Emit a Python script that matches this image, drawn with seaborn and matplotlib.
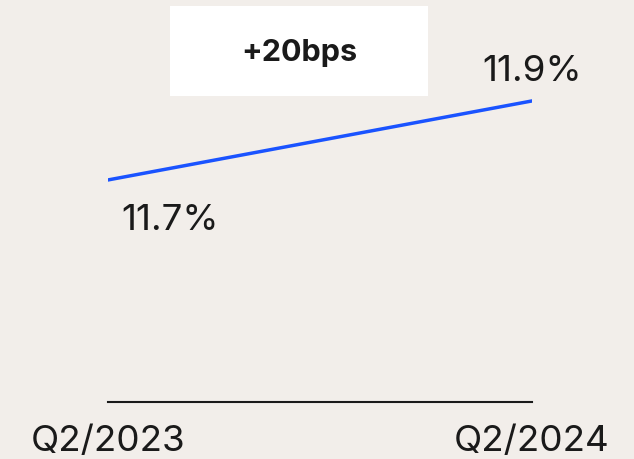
import matplotlib
matplotlib.use("Agg")
import matplotlib.pyplot as plt
import matplotlib.patches as mpatches
import seaborn as sns
import pandas as pd

# Data
periods = ["Q2/2023", "Q2/2024"]
values = [11.7, 11.9]
value_labels = ["11.7%", "11.9%"]
change_label = "+20bps"

df = pd.DataFrame({"pos": range(len(periods)), "value": values})

bg = "#f2eeea"
blue = "#1a53ff"
ink = "#1a1a1a"

sns.set_theme(style="white")
plt.rcParams["font.family"] = ["Inter", "DejaVu Sans"]

fig = plt.figure(figsize=(6.34, 4.6), dpi=100, facecolor=bg)
W, H = 634, 460
ax = fig.add_axes([108 / W, 1 - 403 / H, (532 - 108) / W, 403 / H])
ax.set_facecolor(bg)

sns.lineplot(data=df, x="pos", y="value", ax=ax, color=blue, linewidth=2.5)

ax.set_xlim(0, 1)
ax.set_ylim(11.138, 12.158)

# value labels
ax.annotate(value_labels[0], (df.pos[0], df.value[0]), xytext=(62, -40),
            textcoords="offset pixels", ha="center", va="center",
            fontsize=26.5, color=ink)
ax.annotate(value_labels[1], (df.pos[1], df.value[1]), xytext=(0, 30),
            textcoords="offset pixels", ha="center", va="center",
            fontsize=26.5, color=ink)

# change box
fig.patches.append(mpatches.Rectangle((170 / W, 1 - 97 / H), 258 / W, 90 / H,
                                      transform=fig.transFigure, facecolor="white",
                                      edgecolor="none", zorder=0))
fig.text(299 / W, 1 - 53 / H, change_label, ha="center", va="center",
         fontsize=22, fontweight="bold", color=ink)

# axes styling
for s in ["top", "right", "left"]:
    ax.spines[s].set_visible(False)
ax.spines["bottom"].set_color(ink)
ax.spines["bottom"].set_linewidth(1.5)
ax.set_yticks([])
ax.set_xticks(df.pos)
ax.set_xticklabels(periods, fontsize=26.5, color=ink)
ax.tick_params(axis="x", length=0, pad=16)
ax.set_xlabel("")
ax.set_ylabel("")

fig.savefig("out.png", dpi=100, facecolor=bg)
